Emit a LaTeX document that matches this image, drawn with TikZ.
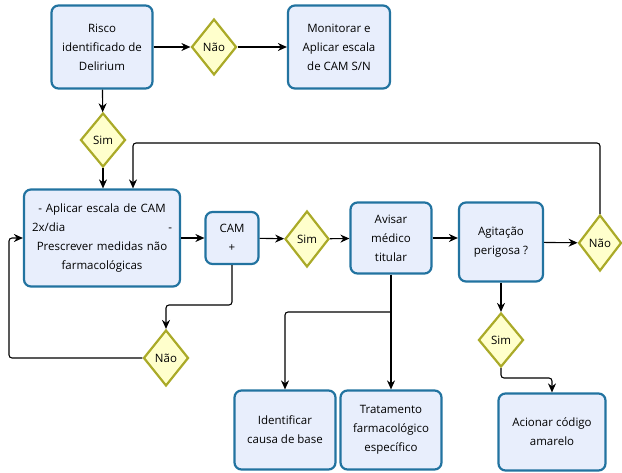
\documentclass[tikz,border=0pt]{standalone}
\usepackage{fontspec}
\setmainfont{Open Sans}
\usetikzlibrary{shapes.geometric,arrows.meta}
\definecolor{boxfill}{RGB}{232,238,252}
\definecolor{boxline}{RGB}{34,115,160}
\definecolor{decfill}{RGB}{255,255,204}
\definecolor{decline}{RGB}{170,170,40}
\begin{document}
\begin{tikzpicture}[x=1pt,y=-1pt,
	box/.style={draw=boxline,fill=boxfill,line width=2.2pt,rounded corners=7pt,align=center,inner sep=2pt,font=\fontsize{11.5}{19}\selectfont},
	dec/.style={diamond,draw=decline,fill=decfill,line width=2.2pt,inner sep=0pt,minimum width=45pt,minimum height=56pt,font=\fontsize{11.5}{14}\selectfont},
	conn/.style={-{Stealth[length=9pt,width=8pt]},line width=1.1pt,rounded corners=3pt}]
	\useasboundingbox (0,0) rectangle (622,473);
	% linha de cima
	\node[box,minimum width=101pt,minimum height=83pt] (risco) at (102,47) {Risco\\identificado de\\Delirium};
	\node[dec] (nao1) at (214,47) {Não};
	\node[box,minimum width=102pt,minimum height=83pt] (monit) at (339,47) {Monitorar e\\Aplicar escala\\de CAM S/N};
	\node[dec,minimum height=54pt] (sim1) at (103,140) {Sim};
	% linha do meio
	\node[box,minimum width=156pt,minimum height=97pt,text width=140pt] (aplicar) at (102,238) {- Aplicar escala de CAM\\2x/dia\hfill-\\Prescrever medidas não\\farmacológicas};
	\node[box,minimum width=53pt,minimum height=52pt] (cam) at (232,238) {CAM\\+};
	\node[dec,minimum width=44pt] (sim2) at (307,239) {Sim};
	\node[box,minimum width=81pt,minimum height=71pt] (avisar) at (391,238) {Avisar\\médico\\titular};
	\node[box,minimum width=84pt,minimum height=79pt] (agit) at (501,242) {Agitação\\perigosa ?};
	\node[dec,minimum width=43pt] (nao3) at (600,243) {Não};
	\node[dec] (nao2) at (166,358) {Não};
	\node[dec,minimum height=54pt] (sim3) at (501,340) {Sim};
	% linha de baixo
	\node[box,minimum width=101pt,minimum height=79pt] (ident) at (285,430) {Identificar\\causa de base};
	\node[box,minimum width=101pt,minimum height=79pt] (trat) at (391,430) {Tratamento\\farmacológico\\específico};
	\node[box,minimum width=107pt,minimum height=77pt] (acion) at (552,432) {Acionar código\\amarelo};
	% ligacoes
	\coordinate (volta) at (133,143);
	\coordinate (c1) at (166,305);
	\coordinate (c2) at (9,238);
	\coordinate (c3) at (391,312);
	\coordinate (c4) at (501,378);
	\draw[conn] (risco) -- (nao1);
	\draw[conn] (nao1) -- (monit);
	\draw[conn] (risco) -- (sim1);
	\draw[conn] (sim1) -- (aplicar.north -| sim1);
	\draw[conn] (nao3.north) |- (volta) -- (volta |- aplicar.north);
	\draw[conn] (aplicar) -- (cam);
	\draw[conn] (cam) -- (sim2);
	\draw[conn] (sim2) -- (avisar);
	\draw[conn] (avisar.east) -- (agit.west |- avisar.east);
	\draw[conn] (agit) -- (nao3);
	\draw[conn] (cam.south) |- (c1) -- (nao2.north);
	\draw[conn] (nao2.west) -| (c2) -- (aplicar.west);
	\draw[conn] (avisar.south) -- (trat.north);
	\draw[conn] (c3) -| (ident.north);
	\draw[conn] (agit) -- (sim3);
	\draw[conn] (sim3.south) -- (c4) -| (acion.north);
\end{tikzpicture}
\end{document}
